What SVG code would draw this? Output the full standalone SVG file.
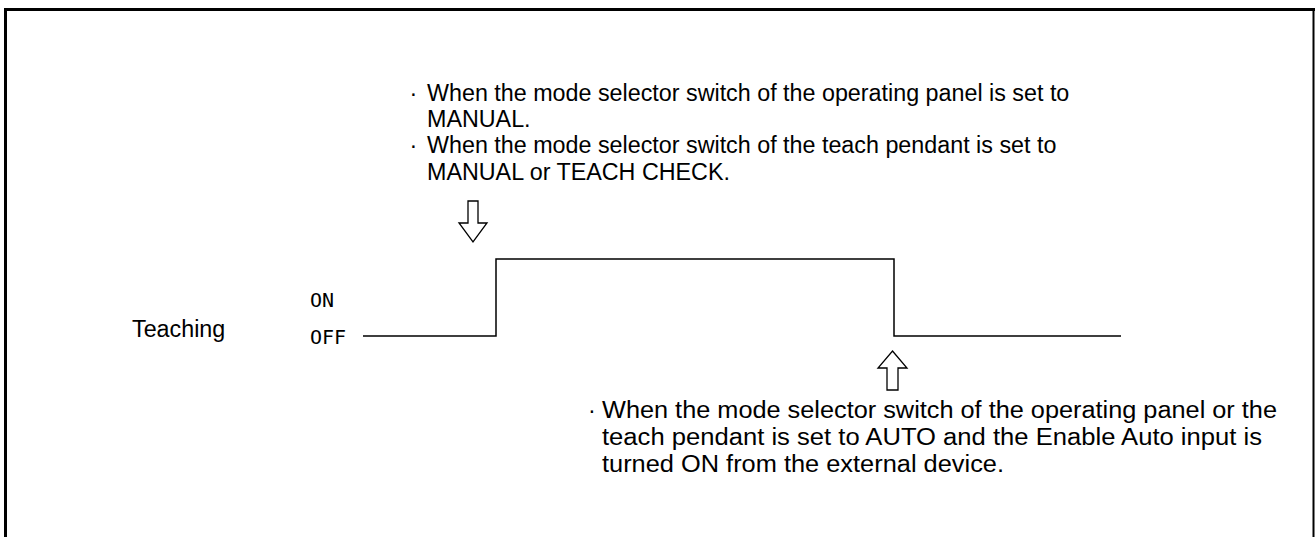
<svg xmlns="http://www.w3.org/2000/svg" width="1316" height="537" viewBox="0 0 1316 537">
<style>
.t{font-family:"Liberation Sans",Arial,sans-serif;font-size:23.3px;fill:#000}
.b{font-family:"Liberation Sans",Arial,sans-serif;font-size:23.3px;fill:#000}
.m{font-family:"DejaVu Sans Mono","Liberation Mono",monospace;font-size:20px;fill:#000}
.w{fill:none;stroke:#000;stroke-width:1.5}
.ar{fill:#fff;stroke:#000;stroke-width:1.3;stroke-linejoin:miter}
</style>
<rect width="1316" height="537" fill="#fff"/>
<g id="frame" fill="none" stroke="#000">
<line x1="5.5" y1="8" x2="5.5" y2="537" stroke-width="3"/>
<line x1="4" y1="9.5" x2="1315" y2="9.5" stroke-width="3"/>
<line x1="1313.5" y1="9" x2="1313.5" y2="537" stroke-width="2"/>
</g>
<g id="note-top">
<text class="t"><tspan x="409.5" y="101">·</tspan><tspan x="427" y="101">When the mode selector switch of the operating panel is set to</tspan></text>
<text class="t" x="427" y="127">MANUAL.</text>
<text class="t"><tspan x="409.5" y="153">·</tspan><tspan x="427" y="153">When the mode selector switch of the teach pendant is set to</tspan></text>
<text class="t" x="427" y="180">MANUAL or TEACH CHECK.</text>
</g>
<g id="signal-label">
<text class="t" x="132" y="337">Teaching</text>
<text class="m" x="310" y="307">ON</text>
<text class="m" x="310" y="344">OFF</text>
</g>
<g id="note-bottom">
<text class="b" x="588" y="418">·</text>
<text class="b" x="602" y="418" textLength="675" lengthAdjust="spacingAndGlyphs">When the mode selector switch of the operating panel or the</text>
<text class="b" x="602" y="445" textLength="660" lengthAdjust="spacingAndGlyphs">teach pendant is set to AUTO and the Enable Auto input is</text>
<text class="b" x="602" y="472" textLength="402" lengthAdjust="spacingAndGlyphs">turned ON from the external device.</text>
</g>
<g id="connectors">
<polyline class="w" points="363,336 496,336 496,259 894,259 894,336 1121,336"/>
<polygon id="arrow-down" class="ar" points="468,201 478,201 478,223 487,223 473,242 459,223 468,223"/>
<polygon id="arrow-up" class="ar" points="892.5,351 907,368 898,368 898,390 887,390 887,368 878,368"/>
</g>
</svg>
